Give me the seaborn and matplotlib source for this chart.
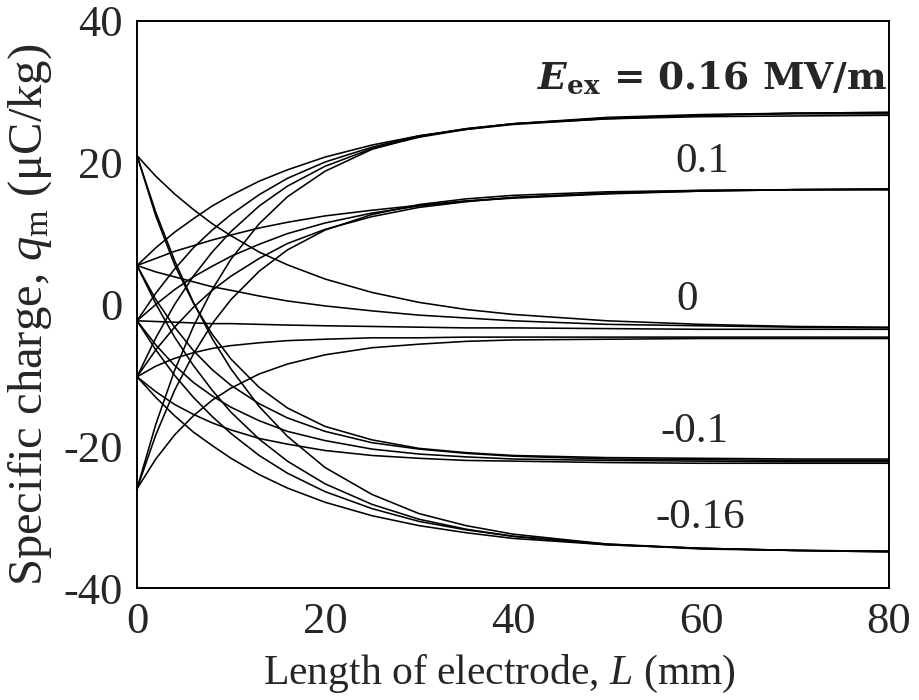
import matplotlib
matplotlib.use("Agg")
import matplotlib.pyplot as plt
import pandas as pd
import seaborn as sns

# ---------------- data ----------------
L_mm = [0, 2, 4, 6, 8, 10, 13, 16, 20, 25, 30, 35, 40, 50, 60, 70, 80]

# E_ex = 0.16 MV/m
q_e016_s5 = [5.5, 8.0, 10.2, 12.1, 13.9, 15.4, 17.4, 19.0, 20.8, 22.5, 23.8, 24.7, 25.4, 26.2, 26.7, 27.0, 27.1]
q_e016_s2 = [-2.3, 1.6, 5.0, 8.0, 10.5, 12.7, 15.5, 17.8, 20.1, 22.2, 23.8, 24.8, 25.5, 26.4, 26.8, 27.0, 27.1]
q_e016_s10 = [-10.2, -4.7, 0.0, 4.0, 7.4, 10.3, 13.9, 16.7, 19.5, 22.0, 23.6, 24.7, 25.5, 26.3, 26.7, 26.9, 26.9]
q_e016_s26 = [-26.0, -16.9, -9.3, -3.1, 2.1, 6.4, 11.4, 15.2, 18.8, 21.9, 23.7, 24.8, 25.5, 26.2, 26.5, 26.6, 26.7]

# E_ex = 0.1 MV/m
q_e010_s5 = [5.5, 6.5, 7.5, 8.3, 9.1, 9.8, 10.8, 11.6, 12.5, 13.3, 14.0, 14.6, 15.0, 15.6, 16.0, 16.2, 16.3]
q_e010_s2 = [-2.3, 0.0, 2.1, 3.9, 5.4, 6.8, 8.5, 10.0, 11.5, 12.9, 13.9, 14.6, 15.1, 15.7, 16.1, 16.2, 16.3]
q_e010_s10 = [-10.2, -6.4, -3.2, -0.4, 2.0, 4.0, 6.5, 8.6, 10.6, 12.4, 13.7, 14.5, 15.1, 15.7, 16.0, 16.2, 16.2]
q_e010_s26 = [-26.0, -18.4, -12.1, -7.0, -2.7, 0.7, 4.7, 7.7, 10.5, 12.7, 14.1, 14.9, 15.4, 15.9, 16.1, 16.2, 16.2]

# E_ex = 0 MV/m
q_e000_s21 = [21.0, 18.1, 15.6, 13.4, 11.4, 9.7, 7.4, 5.6, 3.6, 1.7, 0.3, -0.7, -1.4, -2.3, -2.8, -3.1, -3.2]
q_e000_s5 = [5.5, 4.6, 3.9, 3.2, 2.5, 2.0, 1.2, 0.5, -0.2, -0.9, -1.5, -1.9, -2.3, -2.8, -3.0, -3.2, -3.3]
q_e000_s2 = [-2.3, -2.4, -2.5, -2.6, -2.7, -2.7, -2.8, -2.9, -3.0, -3.1, -3.2, -3.3, -3.3, -3.4, -3.5, -3.5, -3.5]
q_e000_s10 = [-10.2, -8.7, -7.6, -6.8, -6.2, -5.8, -5.4, -5.1, -4.9, -4.7, -4.7, -4.6, -4.6, -4.6, -4.6, -4.6, -4.6]
q_e000_s26 = [-26.0, -21.8, -18.4, -15.7, -13.5, -11.8, -9.8, -8.4, -7.1, -6.1, -5.6, -5.2, -5.0, -4.9, -4.8, -4.8, -4.8]

# E_ex = -0.1 MV/m
q_em010_s21 = [21.0, 12.5, 5.6, 0.2, -4.2, -7.7, -11.7, -14.6, -17.2, -19.1, -20.3, -20.9, -21.3, -21.6, -21.7, -21.8, -21.8]
q_em010_s5 = [5.5, 0.7, -3.2, -6.5, -9.2, -11.4, -14.0, -16.0, -17.9, -19.5, -20.4, -21.0, -21.4, -21.8, -21.9, -22.0, -22.0]
q_em010_s2 = [-2.3, -5.7, -8.6, -11.0, -12.9, -14.5, -16.4, -17.9, -19.2, -20.4, -21.1, -21.5, -21.8, -22.0, -22.1, -22.2, -22.2]
q_em010_s10 = [-10.2, -12.3, -14.1, -15.5, -16.7, -17.7, -18.9, -19.7, -20.6, -21.3, -21.7, -22.0, -22.1, -22.3, -22.4, -22.4, -22.4]

# E_ex = -0.16 MV/m
q_em016_s21 = [21.0, 13.0, 6.2, 0.3, -4.8, -9.1, -14.4, -18.6, -23.0, -26.8, -29.5, -31.2, -32.4, -33.8, -34.5, -34.7, -34.9]
q_em016_s5 = [5.5, 0.1, -4.6, -8.6, -12.1, -15.2, -19.0, -22.1, -25.3, -28.2, -30.3, -31.7, -32.7, -33.9, -34.4, -34.7, -34.9]
q_em016_s2 = [-2.3, -6.4, -10.0, -13.1, -15.8, -18.2, -21.3, -23.8, -26.4, -28.8, -30.6, -31.8, -32.7, -33.8, -34.4, -34.7, -34.8]
q_em016_s10 = [-10.2, -13.1, -15.7, -18.0, -19.9, -21.7, -24.0, -25.9, -27.9, -29.8, -31.2, -32.2, -33.0, -33.9, -34.4, -34.7, -34.8]

field_labels = ["0.1", "0", "-0.1", "-0.16"]
top_label_value = "0.16"
x_tick_values = [0, 20, 40, 60, 80]
y_tick_values = [-40, -20, 0, 20, 40]

# ---------------- long table for seaborn ----------------
curves = {
    "e016_s5": q_e016_s5, "e016_s2": q_e016_s2, "e016_s10": q_e016_s10, "e016_s26": q_e016_s26,
    "e010_s5": q_e010_s5, "e010_s2": q_e010_s2, "e010_s10": q_e010_s10, "e010_s26": q_e010_s26,
    "e000_s21": q_e000_s21, "e000_s5": q_e000_s5, "e000_s2": q_e000_s2, "e000_s10": q_e000_s10,
    "e000_s26": q_e000_s26,
    "em010_s21": q_em010_s21, "em010_s5": q_em010_s5, "em010_s2": q_em010_s2, "em010_s10": q_em010_s10,
    "em016_s21": q_em016_s21, "em016_s5": q_em016_s5, "em016_s2": q_em016_s2, "em016_s10": q_em016_s10,
}
rows = []
for name, vals in curves.items():
    for L, q in zip(L_mm, vals):
        rows.append({"curve": name, "L": L, "q": q})
df = pd.DataFrame(rows)

# ---------------- style ----------------
sns.set_style("white")
plt.rcParams["font.family"] = ["Liberation Serif", "DejaVu Serif"]
plt.rcParams["mathtext.fontset"] = "custom"
plt.rcParams["mathtext.rm"] = "Liberation Serif"
plt.rcParams["mathtext.it"] = "Liberation Serif:italic"
plt.rcParams["mathtext.bf"] = "Liberation Serif:bold"
plt.rcParams["mathtext.bfit"] = "Liberation Serif:bold:italic"

FS = 31
fig = plt.figure(figsize=(9.2, 7.0), dpi=100)
ax = fig.add_axes([137 / 920, 1 - 588 / 700, (889 - 137) / 920, (588 - 21) / 700])

sns.lineplot(data=df, x="L", y="q", units="curve", estimator=None,
             color="black", linewidth=1.15, ax=ax, legend=False, sort=False)

ax.set_xlim(0, 80)
ax.set_ylim(-40, 40)

ax.set_xticks(x_tick_values)
ax.set_yticks(y_tick_values)
ax.set_xticklabels([str(v) for v in x_tick_values])
ax.set_yticklabels([str(v) for v in y_tick_values])
ax.tick_params(axis="both", which="major", length=0, labelsize=32, pad=10)
ax.set_xticks([20, 60], minor=True)
ax.set_yticks([-20, 0, 20], minor=True)
ax.tick_params(axis="x", which="minor", direction="in", length=14, width=1.2, color="black")
ax.tick_params(axis="y", which="minor", direction="in", length=14, width=2.2, color="black")

for sp in ax.spines.values():
    sp.set_visible(True)
    sp.set_color("black")
    sp.set_linewidth(1.4)

ax.set_xlabel("Length of electrode, $\\mathit{L}$ (mm)", fontsize=30)
ax.set_ylabel("Specific charge, $\\mathit{q}_{\\mathrm{m}}$ (\u03bcC/kg)", fontsize=35)
ax.xaxis.set_label_coords((499 - 137) / 752, -(674 - 588) / 567, transform=ax.transAxes)
ax.yaxis.set_label_coords(-(137 - 30) / 752, 1 - (315 - 21) / 567, transform=ax.transAxes)
ax.xaxis.label.set_va("center")
ax.yaxis.label.set_va("center")

ax.text(79.8, 31.8, "$\\mathbfit{E}_{\\mathbf{ex}}$ = " + top_label_value + " MV/m",
        fontsize=27, fontweight="bold", family="DejaVu Serif", math_fontfamily="dejavuserif",
        ha="right", va="center")
ax.text(60.1, 20.1, field_labels[0], fontsize=FS, ha="center", va="center")
ax.text(58.5, 0.7, field_labels[1], fontsize=FS, ha="center", va="center")
ax.text(59.3, -18.0, field_labels[2], fontsize=FS, ha="center", va="center")
ax.text(59.9, -30.1, field_labels[3], fontsize=FS, ha="center", va="center")

fig.savefig("out.png", dpi=100)
